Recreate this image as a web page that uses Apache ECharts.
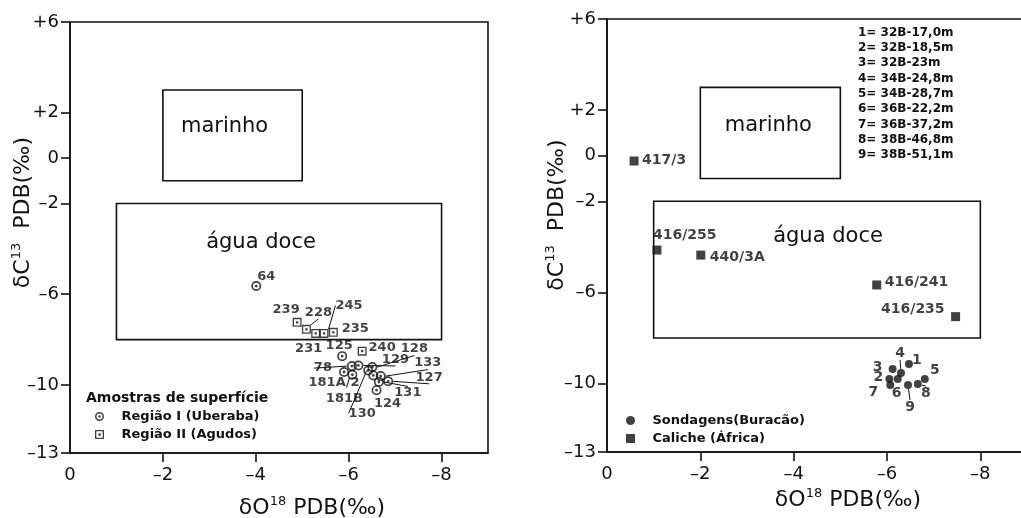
<!DOCTYPE html>
<html>
<head>
<meta charset="utf-8">
<script src="https://cdn.jsdelivr.net/npm/echarts@6/dist/echarts.min.js"></script>
<style>html,body{margin:0;padding:0;background:#fff}#chart{width:1021px;height:518px}</style>
</head>
<body>
<div id="chart"></div>
<script>
// ticks dos eixos
var xTicks=[0,-2,-4,-6,-8];
var yTicks=[6,2,0,-2,-6,-10,-13];

// campos isotopicos (retangulos)
var zonaNomes=['marinho','água doce'];
var zonaX=[[-2,-5],[-1,-8]];
var zonaY=[[3,-1],[-2,-8]];

// painel esquerdo - amostras de superficie
var reg1Nomes=['64','125','78','129','181A/2','181B','130','128','','133','131','127','124'];
var reg1X=[-4.01,-5.86,-6.07,-6.21,-5.90,-6.08,-6.42,-6.51,-6.53,-6.69,-6.65,-6.85,-6.60];
var reg1Y=[-5.64,-8.73,-9.17,-9.14,-9.43,-9.55,-9.36,-9.21,-9.58,-9.61,-9.87,-9.84,-10.23];

var reg2Nomes=['239','228','231','245','235','240'];
var reg2X=[-4.89,-5.09,-5.29,-5.47,-5.67,-6.29];
var reg2Y=[-7.24,-7.55,-7.73,-7.73,-7.68,-8.51];

// painel direito - sondagens e caliche
var sondNomes=['1','2','3','4','5','6','7','8','9'];
var sondX=[-6.47,-6.05,-6.12,-6.30,-6.81,-6.23,-6.07,-6.66,-6.45];
var sondY=[-9.14,-9.80,-9.36,-9.53,-9.80,-9.80,-10.06,-10.02,-10.06];

var calNomes=['417/3','416/255','440/3A','416/241','416/235'];
var calX=[-0.58,-1.07,-2.01,-5.78,-7.47];
var calY=[-0.23,-4.14,-4.36,-5.67,-7.06];

var furos=['1= 32B-17,0m','2= 32B-18,5m','3= 32B-23m','4= 34B-24,8m','5= 34B-28,7m',
           '6= 36B-22,2m','7= 36B-37,2m','8= 38B-46,8m','9= 38B-51,1m'];

// posicao dos rotulos (dx,dy,align) - so estilo
var reg1Off=[[10,-9],[-3,-11],[-29,2],[37,-6],[-10,11],[-8,24],[-6,43],[42,-18],[0,0],[47,-13],[29,11],[41,-4],[11,13]];
var reg2Off=[[-11,-13],[12,-17],[-7,15],[25,-28],[22,-4],[20,-4]];
var sondOff=[[8,-4],[-11,-2],[-15,-2],[-1,-20],[10,-9],[-1,14],[-17,7],[8,9],[2,22]];
var calOff=[[8,-1,'left'],[-4,-15,'left'],[9,2,'left'],[8,-3,'left'],[-11,-7,'right']];
var comLinha=['228','245','78','129','128','133','127','131','130','4','8','9'];

var FONT='DejaVu Sans', INK='#111';
var ring='path://M0,5A5,5 0 1,1 10,5A5,5 0 1,1 0,5ZM1.7,5A3.3,3.3 0 1,0 8.3,5A3.3,3.3 0 1,0 1.7,5ZM3.6,5A1.4,1.4 0 1,1 6.4,5A1.4,1.4 0 1,1 3.6,5Z';
var boxDot='path://M0,0H10V10H0ZM1.5,1.5V8.5H8.5V1.5ZM3.7,3.7H6.3V6.3H3.7Z';
var quad='path://M0,0H10V10H0Z';

function pontos(nomes,xs,ys){
  var d=[];
  for(var i=0;i<nomes.length;i++){
    d.push({name:nomes[i],value:[xs[i],ys[i]],labelLine:{show:comLinha.indexOf(nomes[i])>=0}});
  }
  return d;
}
function layout(off){
  return function(p){
    var o=off[p.dataIndex];
    return {dx:o[0],dy:o[1],align:o[2]||'center'};
  };
}
function fmtNum(v){
  if(v>0)return '+'+v;
  if(v<0)return '–'+Math.abs(v);
  return '0';
}
function xAx(g,gap,pad){
  return {gridIndex:g,type:'value',min:-9,max:0,inverse:true,
    name:'δO{s|18} PDB(‰)',nameLocation:'middle',nameGap:gap,nameMoveOverlap:false,
    nameTextStyle:{fontFamily:FONT,fontSize:22,color:INK,lineHeight:26,padding:[0,0,0,pad],
      rich:{s:{fontFamily:FONT,fontSize:13,color:INK,verticalAlign:'top'}}},
    axisLine:{show:true,onZero:false,lineStyle:{color:INK,width:1.6}},
    axisTick:{show:true,length:9,customValues:[-2,-4,-6,-8],lineStyle:{color:INK,width:1.6}},
    axisLabel:{customValues:xTicks,formatter:fmtNum,margin:13,fontFamily:FONT,fontSize:18,color:INK},
    splitLine:{show:false}};
}
function yAx(g,gap,pad){
  return {gridIndex:g,type:'value',min:-13,max:6,
    name:'δC{s|13}  PDB(‰)',nameLocation:'middle',nameGap:gap,nameRotate:90,nameMoveOverlap:false,
    nameTextStyle:{fontFamily:FONT,fontSize:22,color:INK,lineHeight:26,padding:[0,0,0,pad],
      rich:{s:{fontFamily:FONT,fontSize:13,color:INK,verticalAlign:'top'}}},
    axisLine:{show:true,onZero:false,lineStyle:{color:INK,width:1.6}},
    axisTick:{show:true,length:9,customValues:yTicks,lineStyle:{color:INK,width:1.6}},
    axisLabel:{customValues:yTicks,formatter:fmtNum,margin:11,fontFamily:FONT,fontSize:18,color:INK},
    splitLine:{show:false}};
}
function zonas(xi,yi,off){
  var d=[];
  for(var i=0;i<zonaNomes.length;i++){
    d.push([{name:zonaNomes[i],coord:[zonaX[i][0],zonaY[i][0]],label:{offset:[off[i][0],0],distance:off[i][1]}},
            {coord:[zonaX[i][1],zonaY[i][1]]}]);
  }
  return {name:'zonas',type:'scatter',xAxisIndex:xi,yAxisIndex:yi,data:[],silent:true,
    markArea:{silent:true,itemStyle:{color:'rgba(0,0,0,0)',borderColor:INK,borderWidth:1.6},
      label:{show:true,position:'insideTop',fontFamily:FONT,fontSize:21,color:INK},data:d}};
}
function rotulo(tam){
  return {show:true,position:'inside',formatter:'{b}',fontFamily:FONT,fontSize:tam,fontWeight:'bold',color:INK};
}
var guia={show:false,lineStyle:{color:INK,width:1}};

var chart=echarts.init(document.getElementById('chart'));
var option={
  animation:false,
  title:[
    {text:'Amostras de superfície',left:86,top:391,padding:0,
     textStyle:{fontFamily:FONT,fontSize:14,fontWeight:'bold',color:INK}},
    {text:furos.join('\n'),left:858,top:25,padding:0,
     textStyle:{fontFamily:FONT,fontSize:12,lineHeight:15.3,fontWeight:'bold',color:INK}}
  ],
  legend:[
    {data:[{name:'Região I (Uberaba)',icon:ring},{name:'Região II (Agudos)',icon:boxDot}],
     orient:'vertical',left:95,top:410,itemWidth:34,itemHeight:9,itemGap:5,padding:0,
     textStyle:{fontFamily:FONT,fontSize:13,fontWeight:'bold',color:INK}},
    {data:[{name:'Sondagens(Buracão)',icon:'circle'},{name:'Caliche (África)',icon:quad}],
     orient:'vertical',left:626,top:414,itemWidth:34,itemHeight:9,itemGap:5,padding:0,
     textStyle:{fontFamily:FONT,fontSize:13,fontWeight:'bold',color:INK}}
  ],
  grid:[
    {left:70,top:22,width:418,height:431,show:true,borderColor:INK,borderWidth:1.6,outerBoundsMode:'none'},
    {left:607,top:19,width:420,height:433,show:true,borderColor:INK,borderWidth:1.6,outerBoundsMode:'none'}
  ],
  xAxis:[xAx(0,42,66),xAx(1,35,62)],
  yAxis:[yAx(0,34,50),yAx(1,37,41)],
  series:[
    zonas(0,0,[[-8,27],[-18,29]]),
    zonas(1,1,[[-2,28],[11,26]]),
    {name:'Região I (Uberaba)',type:'scatter',xAxisIndex:0,yAxisIndex:0,symbol:ring,symbolSize:10,
     itemStyle:{color:INK},data:pontos(reg1Nomes,reg1X,reg1Y),label:rotulo(13),labelLine:guia,labelLayout:layout(reg1Off)},
    {name:'Região II (Agudos)',type:'scatter',xAxisIndex:0,yAxisIndex:0,symbol:boxDot,symbolSize:9,
     itemStyle:{color:INK},data:pontos(reg2Nomes,reg2X,reg2Y),label:rotulo(13),labelLine:guia,labelLayout:layout(reg2Off)},
    {name:'Sondagens(Buracão)',type:'scatter',xAxisIndex:1,yAxisIndex:1,symbol:'circle',symbolSize:8,
     itemStyle:{color:INK},data:pontos(sondNomes,sondX,sondY),label:rotulo(14),labelLine:guia,labelLayout:layout(sondOff)},
    {name:'Caliche (África)',type:'scatter',xAxisIndex:1,yAxisIndex:1,symbol:quad,symbolSize:9,
     itemStyle:{color:INK},data:pontos(calNomes,calX,calY),label:rotulo(14),labelLine:guia,labelLayout:layout(calOff)}
  ]
};
chart.setOption(option);
</script>
</body>
</html>
